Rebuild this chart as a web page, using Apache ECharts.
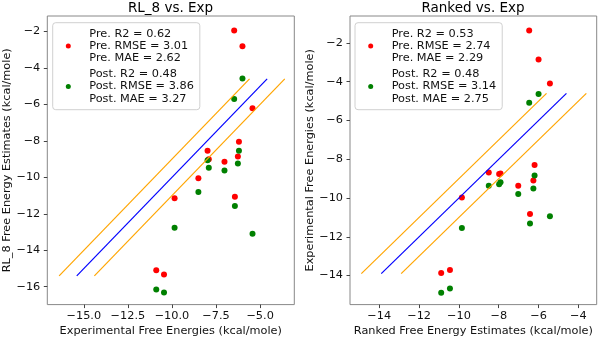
<!DOCTYPE html>
<html>
<head>
<meta charset="utf-8">
<script src="https://cdn.jsdelivr.net/npm/echarts@6/dist/echarts.min.js"></script>
<style>html,body{margin:0;padding:0;background:#fff}#chart{width:600px;height:342px}</style>
</head>
<body>
<div id="chart"></div>
<script>
// Shared experimental values (x positions of each ligand pair)
const expValues = [-10.89, -10.45, -9.85, -8.50, -7.98, -7.91, -7.02, -6.43, -6.26, -6.20, -6.47, -6.00, -5.43];
// Left panel: RL_8 estimates
const rl8Pre  = [-15.10, -15.33, -11.14, -10.05, -8.54, -9.01, -9.15, -11.07, -8.86, -8.05, -1.95, -2.81, -6.21];
const rl8Post = [-16.15, -16.31, -12.76, -10.80, -9.06, -9.48, -9.62, -11.57, -9.24, -8.54, -5.70, -4.58, -13.09];
// Right panel: Ranked estimates
const rankedPre  = [-13.87, -13.72, -9.97, -8.68, -8.76, -8.74, -9.37, -10.82, -9.10, -8.30, -1.36, -2.85, -4.09];
const rankedPost = [-14.89, -14.67, -11.55, -9.37, -9.29, -9.19, -9.80, -11.32, -9.51, -8.84, -5.08, -4.64, -10.94];
// Reference lines (y = x and y = x ± 1), y-extent per panel
const rl8LineRange = [-15.4, -4.6];
const rankedLineRange = [-13.9, -4.6];
const bandOffset = 1;
// Tick values
const leftXTicks = [-15, -12.5, -10, -7.5, -5];
const leftYTicks = [-16, -14, -12, -10, -8, -6, -4, -2];
const rightXTicks = [-14, -12, -10, -8, -6, -4];
const rightYTicks = [-14, -12, -10, -8, -6, -4, -2];
// Text
const titles = ['RL_8 vs. Exp', 'Ranked vs. Exp'];
const rl8Names = ['Pre. R2 = 0.62\nPre. RMSE = 3.01\nPre. MAE = 2.62', 'Post. R2 = 0.48\nPost. RMSE = 3.86\nPost. MAE = 3.27'];
const rankedNames = ['Pre. R2 = 0.53\nPre. RMSE = 2.74\nPre. MAE = 2.29', 'Post. R2 = 0.48\nPost. RMSE = 3.14\nPost. MAE = 2.75'];

const FONT = 'DejaVu Sans';
const FS = 11.3;
const minus = v => (v < 0 ? '\u2212' : '') + Math.abs(v);
const minus1 = v => (v < 0 ? '\u2212' : '') + Math.abs(v).toFixed(1);

function pts(xs, ys) { return xs.map((x, i) => [x, ys[i]]); }
function lineSeg(range, off) { return [[range[0] + off, range[0]], [range[1] + off, range[1]]]; }

function axis(gridIndex, min, max, ticks, fmt, name, nameGap, isY) {
  return {
    type: 'value', gridIndex, min, max, name,
    nameLocation: 'middle', nameGap,
    nameTextStyle: { fontFamily: FONT, fontSize: FS, color: '#111' },
    axisLine: { show: false },
    splitLine: { show: false },
    axisTick: { show: true, customValues: ticks, length: 3.5, lineStyle: { color: '#444', width: 1 } },
    axisLabel: { customValues: ticks, formatter: fmt, fontFamily: FONT, fontSize: FS, color: '#111', margin: isY ? 7 : 5.5 }
  };
}

function legend(names, left, iconLeftPad) {
  return {
    show: true, orient: 'vertical', left, top: 22.7,
    data: names,
    icon: 'circle', itemWidth: 5, itemHeight: 5, itemGap: 3.8,
    padding: [5, 6, 5, iconLeftPad],
    backgroundColor: '#fff', borderColor: '#d0d0d0', borderWidth: 1, borderRadius: 3,
    selectedMode: false,
    itemStyle: { opacity: 1 },
    textStyle: { fontFamily: FONT, fontSize: FS, color: '#111', lineHeight: 12.2, padding: [0, 0, 0, 13.5] }
  };
}

function scatter(name, xi, yi, data, color) {
  return { type: 'scatter', name, xAxisIndex: xi, yAxisIndex: yi, data, symbolSize: 6,
    itemStyle: { color, opacity: 1 }, z: 2, silent: true };
}
function line(xi, yi, data, color) {
  return { type: 'line', xAxisIndex: xi, yAxisIndex: yi, data, showSymbol: false, symbol: 'none',
    lineStyle: { color, width: 1.2 }, z: 3, silent: true };
}

const chart = echarts.init(document.getElementById('chart'), null, { renderer: 'canvas' });
chart.setOption({
  animation: false,
  backgroundColor: '#fff',
  title: [
    { text: titles[0], left: 170.5, top: 1, textAlign: 'center', padding: 0,
      textStyle: { fontFamily: FONT, fontSize: 13.5, fontWeight: 'normal', color: '#000' } },
    { text: titles[1], left: 473, top: 1, textAlign: 'center', padding: 0,
      textStyle: { fontFamily: FONT, fontSize: 13.5, fontWeight: 'normal', color: '#000' } }
  ],
  grid: [
    { left: 47.3, top: 16, width: 247, height: 292, show: true, borderColor: '#888', borderWidth: 1, backgroundColor: 'transparent' },
    { left: 350, top: 16, width: 246.7, height: 291.7, show: true, borderColor: '#888', borderWidth: 1, backgroundColor: 'transparent' }
  ],
  xAxis: [
    axis(0, -17.07, -3.06, leftXTicks, minus1, 'Experimental Free Energies (kcal/mole)', 19, false),
    axis(1, -15.47, -3.08, rightXTicks, minus, 'Ranked Free Energy Estimates (kcal/mole)', 19, false)
  ],
  yAxis: [
    axis(0, -16.98, -1.15, leftYTicks, minus, 'RL_8 Free Energy Estimates (kcal/mole)', 31, true),
    axis(1, -15.5, -0.61, rightYTicks, minus, 'Experimental Free Energies (kcal/mole)', 33.5, true)
  ],
  legend: [
    legend(rl8Names, 52.7, 13.1),
    legend(rankedNames, 355, 13.2)
  ],
  series: [
    scatter(rl8Names[0], 0, 0, pts(expValues, rl8Pre), '#ff0000'),
    scatter(rl8Names[1], 0, 0, pts(expValues, rl8Post), '#008000'),
    line(0, 0, lineSeg(rl8LineRange, 0), '#0000ff'),
    line(0, 0, lineSeg(rl8LineRange, -bandOffset), '#ffa500'),
    line(0, 0, lineSeg(rl8LineRange, bandOffset), '#ffa500'),
    scatter(rankedNames[0], 1, 1, pts(expValues, rankedPre), '#ff0000'),
    scatter(rankedNames[1], 1, 1, pts(expValues, rankedPost), '#008000'),
    line(1, 1, lineSeg(rankedLineRange, 0), '#0000ff'),
    line(1, 1, lineSeg(rankedLineRange, -bandOffset), '#ffa500'),
    line(1, 1, lineSeg(rankedLineRange, bandOffset), '#ffa500')
  ]
});
</script>
</body>
</html>
